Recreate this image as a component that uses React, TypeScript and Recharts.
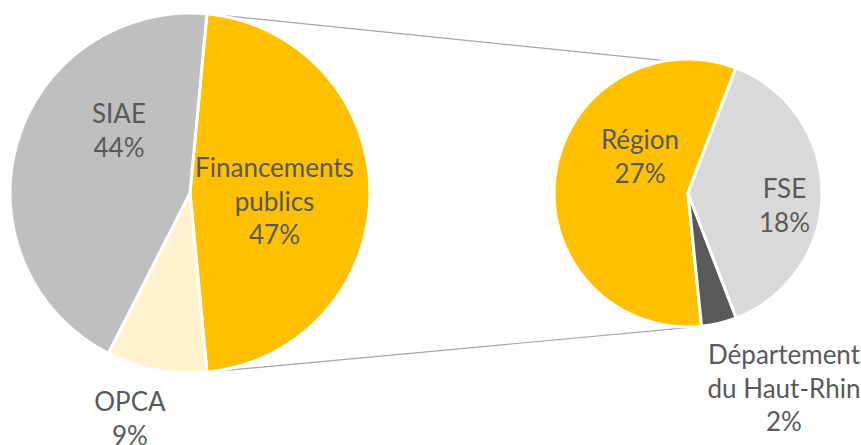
import React from 'react';
import { PieChart, Pie, Cell, Customized } from 'recharts';

// ---- Data ----
const mainNames = ['Financements publics', 'OPCA', 'SIAE'];
const mainValues = [47, 9, 44];
const subNames = ['Région', 'Département du Haut-Rhin', 'FSE'];
const subValues = [27, 2, 18];

// label text lines (how Excel wraps them)
const mainLabelLines = [['Financements', 'publics'], ['OPCA'], ['SIAE']];
const subLabelLines = [['Région'], ['Département', 'du Haut-Rhin'], ['FSE']];

// ---- Styles / layout ----
const mainColors = ['#FFC000', '#FFF2CC', '#BFBFBF'];
const subColors = ['#FFC000', '#595959', '#D9D9D9'];
const W = 861;
const H = 445;
const L = { cx: 190, cy: 193, r: 180 };
const R = { cx: 688, cy: 193, r: 134 };
const SUB_START = 69;
const FONT = 'Lato, "Open Sans", sans-serif';
const FONT_SIZE = 26;
const LINE_H = 33.5;
const TEXT_COLOR = '#595959';
// label offsets from the pie centre: [dx, dy of first baseline]
const mainLabelPos = [[84.5, -16], [-60, 218], [-71, -70]];
const subLabelPos = [[-48, -44], [96, 171], [96.5, 5]];

const mainData = mainNames.map((name, i) => ({ name, value: mainValues[i] }));
const subData = subNames.map((name, i) => ({ name, value: subValues[i] }));

const mainTotal = mainValues.reduce((a, b) => a + b, 0);
const subTotal = subValues.reduce((a, b) => a + b, 0);
const mainStart = (360 * mainValues[0]) / mainTotal / 2;
const mainEnd = mainStart - 360;
const subEnd = SUB_START + 360;
const subBottomAngle = SUB_START + (360 * subValues[0]) / subTotal;

const RAD = Math.PI / 180;
const pt = (c: { cx: number; cy: number; r: number }, a: number) => ({
  x: c.cx + c.r * Math.cos(a * RAD),
  y: c.cy - c.r * Math.sin(a * RAD),
});

const makeLabel = (
  lines: string[][],
  pos: number[][],
  values: number[],
  total: number
) => (props: any) => {
  const { cx, cy, index } = props;
  const pct = Math.round((values[index] / total) * 100) + '%';
  const all = [...lines[index], pct];
  const [dx, dy] = pos[index];
  return (
    <text
      key={'lbl' + index}
      x={cx + dx}
      y={cy + dy}
      textAnchor="middle"
      fill={TEXT_COLOR}
      fontFamily={FONT}
      fontSize={FONT_SIZE}
    >
      {all.map((t, i) => (
        <tspan key={i} x={cx + dx} y={cy + dy + i * LINE_H}>
          {t}
        </tspan>
      ))}
    </text>
  );
};

const Connectors = () => {
  const a1 = pt(L, mainStart);
  const b1 = pt(R, SUB_START);
  const a2 = pt(L, -mainStart);
  const b2 = pt(R, subBottomAngle);
  return (
    <g>
      <line x1={a1.x} y1={a1.y} x2={b1.x} y2={b1.y} stroke="#A6A6A6" strokeWidth={1.2} />
      <line x1={a2.x} y1={a2.y} x2={b2.x} y2={b2.y} stroke="#A6A6A6" strokeWidth={1.2} />
    </g>
  );
};

export default function App() {
  return (
    <div style={{ position: 'absolute', left: 0, top: 0, width: W, height: H, background: '#fff' }}>
      <PieChart width={W} height={H} margin={{ top: 0, right: 0, bottom: 0, left: 0 }}>
        <Customized component={Connectors} />
        <Pie
          data={mainData}
          dataKey="value"
          nameKey="name"
          cx={L.cx}
          cy={L.cy}
          outerRadius={L.r}
          startAngle={mainStart}
          endAngle={mainEnd}
          stroke="#ffffff"
          strokeWidth={3}
          isAnimationActive={false}
          labelLine={false}
          label={makeLabel(mainLabelLines, mainLabelPos, mainValues, mainTotal)}
        >
          {mainData.map((d, i) => (
            <Cell key={d.name} fill={mainColors[i]} />
          ))}
        </Pie>
        <Pie
          data={subData}
          dataKey="value"
          nameKey="name"
          cx={R.cx}
          cy={R.cy}
          outerRadius={R.r}
          startAngle={SUB_START}
          endAngle={subEnd}
          stroke="#ffffff"
          strokeWidth={3}
          isAnimationActive={false}
          labelLine={false}
          label={makeLabel(subLabelLines, subLabelPos, subValues, mainTotal)}
        >
          {subData.map((d, i) => (
            <Cell key={d.name} fill={subColors[i]} />
          ))}
        </Pie>
      </PieChart>
    </div>
  );
}
